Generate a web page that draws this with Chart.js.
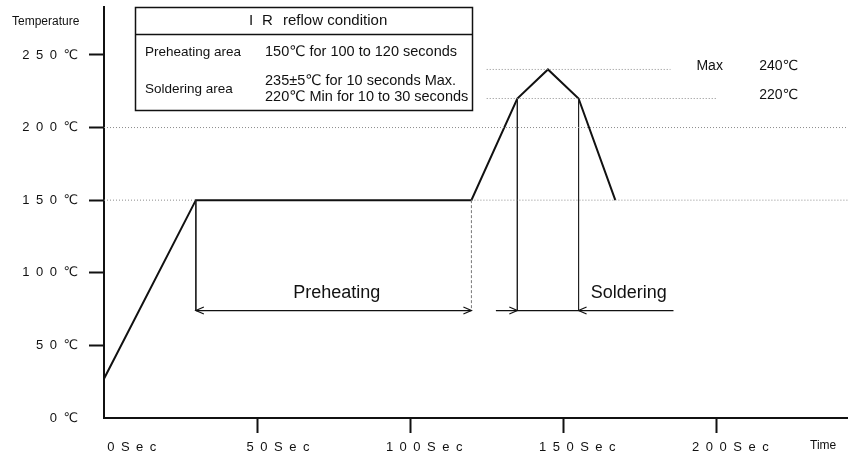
<!DOCTYPE html>
<html>
<head>
<meta charset="utf-8">
<script src="https://cdn.jsdelivr.net/npm/chart.js@4.4.1/dist/chart.umd.min.js"></script>
<style>
  html, body { margin: 0; padding: 0; background: #fff; }
  #wrap { width: 848px; height: 461px; }
</style>
</head>
<body>
<div id="wrap"><canvas id="reflowChart" width="848" height="461"></canvas></div>
<script>
// reflow profile (seconds / deg C)
const profileTime = [0, 30, 120, 135, 145, 155, 167];
const profileTemp = [27, 150, 150, 220, 240, 220, 150];

// axis ticks and ranges
const timeTicks = [0, 50, 100, 150, 200];
const tempTicks = [0, 50, 100, 150, 200, 250];
const timeMax = 243;
const tempMax = 283;

// dotted guide lines
const dottedLevels = [200, 150, 150, 240, 220];
const dottedFrom = [0, 0, 120, 125, 125];
const dottedTo = [timeMax, 30, timeMax, 185, 200];

// vertical markers down to the arrow line
const markerTime = [30, 120, 135, 155];
const markerTop = [150, 150, 220, 220];
const arrowLevel = 74;

// arrow spans
const preheatSpan = [30, 120];
const solderSpan = [135, 155];
const solderTails = [128, 186];

const FONT = "'Liberation Sans', 'DejaVu Sans', Arial, sans-serif";
const SP = '\u2002';

function seg(x1, x2, y1, y2) {
    return [{ x: x1, y: y1 }, { x: x2, y: y2 }];
}

// "2 0 0 S e c" style labels, padded so the "Sec" part sits the same way on every tick
function timeLabel(v) {
    let digits = String(v).split('');
    while (digits.length < 3) digits.unshift('\u2007');
    return digits.join(SP) + SP + ['S', 'e', 'c'].join(SP);
}

function tempLabel(v) {
    return String(v).split('').join(SP) + SP + '\u2103';
}

const guideSets = dottedLevels.map((lv, i) => ({
    data: seg(dottedFrom[i], dottedTo[i], lv, lv),
    borderColor: '#8c8c8c',
    borderWidth: 1,
    borderDash: [1, 2],
    pointRadius: 0,
    showLine: true
}));

const markerSets = markerTime.map((t, i) => ({
    data: seg(t, t, markerTop[i], arrowLevel),
    borderColor: i === 1 ? '#777' : '#222',
    borderWidth: 1,
    borderDash: i === 1 ? [3, 2] : [],
    pointRadius: 0,
    showLine: true
}));

const profileSet = {
    data: profileTime.map((t, i) => ({ x: t, y: profileTemp[i] })),
    borderColor: '#111',
    borderWidth: 2,
    pointRadius: 0,
    showLine: true,
    tension: 0
};

// chevron arrow head, dir = 1 points right, -1 points left
function head(ctx, px, py, dir) {
    ctx.beginPath();
    ctx.moveTo(px - 8 * dir, py - 3.5);
    ctx.lineTo(px, py);
    ctx.lineTo(px - 8 * dir, py + 3.5);
    ctx.stroke();
}

const overlay = {
    id: 'overlay',
    afterDatasetsDraw(chart) {
        const ctx = chart.ctx;
        const x = chart.scales.x;
        const y = chart.scales.y;
        ctx.save();
        ctx.strokeStyle = '#111';
        ctx.fillStyle = '#111';
        ctx.lineWidth = 1.2;

        // arrows
        const ay = y.getPixelForValue(arrowLevel);
        ctx.beginPath();
        ctx.moveTo(x.getPixelForValue(preheatSpan[0]), ay);
        ctx.lineTo(x.getPixelForValue(preheatSpan[1]), ay);
        ctx.stroke();
        head(ctx, x.getPixelForValue(preheatSpan[0]), ay, -1);
        head(ctx, x.getPixelForValue(preheatSpan[1]), ay, 1);

        ctx.beginPath();
        ctx.moveTo(x.getPixelForValue(solderTails[0]), ay);
        ctx.lineTo(x.getPixelForValue(solderTails[1]), ay);
        ctx.stroke();
        head(ctx, x.getPixelForValue(solderSpan[0]), ay, 1);
        head(ctx, x.getPixelForValue(solderSpan[1]), ay, -1);

        // region names
        ctx.font = '18px ' + FONT;
        ctx.textBaseline = 'middle';
        ctx.textAlign = 'center';
        ctx.fillText('Preheating', x.getPixelForValue(76), ay - 17);
        ctx.textAlign = 'left';
        ctx.fillText('Soldering', x.getPixelForValue(159), ay - 17);

        // peak notes
        ctx.font = '14px ' + FONT;
        ctx.fillText('Max', x.getPixelForValue(193.5), y.getPixelForValue(240) - 3);
        ctx.fillText('240\u2103', x.getPixelForValue(214), y.getPixelForValue(240) - 3);
        ctx.fillText('220\u2103', x.getPixelForValue(214), y.getPixelForValue(220) - 3);

        // axis titles
        ctx.font = '12px ' + FONT;
        ctx.fillText('Temperature', 12, 22);
        ctx.fillText('Time', 810, 446);

        // condition table
        ctx.lineWidth = 1.5;
        ctx.strokeRect(135.5, 7.5, 337, 103);
        ctx.beginPath();
        ctx.moveTo(135, 34.5);
        ctx.lineTo(472, 34.5);
        ctx.stroke();

        ctx.font = '15px ' + FONT;
        ctx.fillText('I', 249, 21);
        ctx.fillText('R', 262, 21);
        ctx.fillText('reflow condition', 283, 21);
        ctx.font = '14.5px ' + FONT;
        ctx.fillText('150\u2103 for 100 to 120 seconds', 265, 52);
        ctx.fillText('235\u00b15\u2103 for 10 seconds Max.', 265, 81);
        ctx.fillText('220\u2103 Min for 10 to 30 seconds', 265, 97);
        ctx.font = '13.5px ' + FONT;
        ctx.fillText('Preheating area', 145, 52);
        ctx.fillText('Soldering area', 145, 89);

        ctx.restore();
    }
};

const hideZero = c => (c.tick && c.tick.value === 0 ? 'rgba(0,0,0,0)' : '#111');

new Chart(document.getElementById('reflowChart'), {
    type: 'scatter',
    data: { datasets: [...guideSets, ...markerSets, profileSet] },
    options: {
        responsive: false,
        animation: false,
        devicePixelRatio: 1,
        layout: { padding: { top: 7, right: 0, bottom: 0, left: 0 } },
        plugins: { legend: { display: false }, tooltip: { enabled: false } },
        scales: {
            x: {
                type: 'linear',
                min: 0,
                max: timeMax,
                afterFit: s => { s.height = 43; s.paddingRight = 0; },
                afterBuildTicks: s => { s.ticks = timeTicks.map(v => ({ value: v })); },
                grid: { drawOnChartArea: false, drawTicks: true, tickLength: 15, tickWidth: 2, tickColor: hideZero },
                border: { display: true, color: '#111', width: 2 },
                ticks: {
                    autoSkip: false, maxRotation: 0, padding: 7, labelOffset: 14,
                    color: '#111', font: { family: FONT, size: 13 },
                    callback: v => timeLabel(v)
                }
            },
            y: {
                type: 'linear',
                min: 0,
                max: tempMax,
                afterFit: s => { s.width = 104; s.paddingTop = 0; s.paddingBottom = 0; },
                afterBuildTicks: s => { s.ticks = tempTicks.map(v => ({ value: v })); },
                grid: { drawOnChartArea: false, drawTicks: true, tickLength: 15, tickWidth: 2, tickColor: hideZero },
                border: { display: true, color: '#111', width: 2 },
                ticks: {
                    padding: 11, color: '#111', font: { family: FONT, size: 13 },
                    callback: v => tempLabel(v)
                }
            }
        }
    },
    plugins: [overlay]
});
</script>
</body>
</html>
